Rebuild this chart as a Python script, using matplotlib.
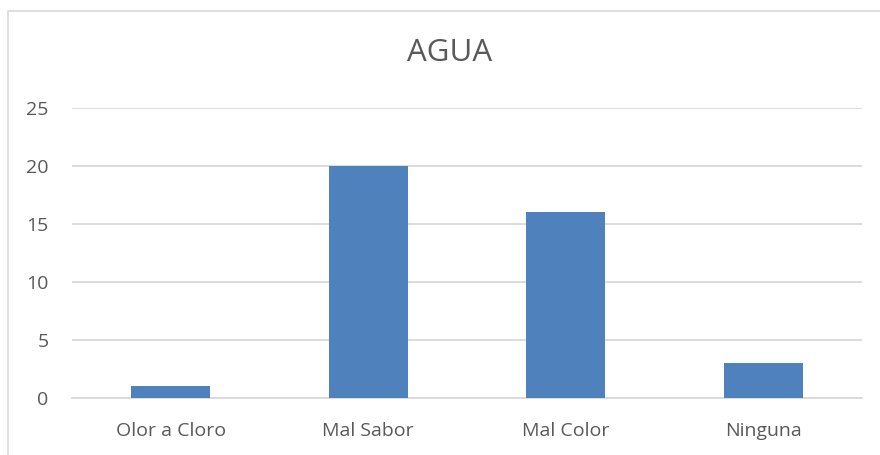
import matplotlib.pyplot as plt
from matplotlib.patches import Rectangle

# Data
categories = ["Olor a Cloro", "Mal Sabor", "Mal Color", "Ninguna"]
values = [1, 20, 16, 3]
yticks = [0, 5, 10, 15, 20, 25]

plt.rcParams['font.family'] = ['Open Sans', 'DejaVu Sans']
text_color = '#595959'
grid_color = '#D9D9D9'

fig = plt.figure(figsize=(8.8, 4.55), dpi=100)
ax = fig.add_axes([72 / 880, 1 - 398 / 455, 790 / 880, 290 / 455])

# chart border (only left and top visible in the reference)
fig.add_artist(Rectangle((7.5 / 880, -0.1), 1.2, 1 - 10.5 / 455 + 0.1,
                         transform=fig.transFigure, fill=False,
                         edgecolor=grid_color, linewidth=1.2))

x = range(len(categories))
ax.bar(x, values, width=0.4, color='#4F81BD', zorder=3)

ax.set_xlim(-0.5, len(categories) - 0.5)
ax.set_ylim(0, 25)
ax.set_yticks(yticks)
ax.set_xticks(list(x))
ax.set_xticklabels(categories)
ax.yaxis.grid(True, color=grid_color, linewidth=1.3, zorder=0)
for s in ['top', 'right', 'left']:
    ax.spines[s].set_visible(False)
ax.spines['bottom'].set_color(grid_color)
ax.spines['bottom'].set_linewidth(1.3)
ax.tick_params(axis='both', length=0, labelsize=14, colors=text_color)
ax.tick_params(axis='y', pad=17)
ax.tick_params(axis='x', pad=17.5)

fig.text(450 / 880, 1 - 53 / 455, "AGUA", ha='center', va='center',
         fontsize=22.5, color=text_color)

fig.savefig('out.png', dpi=100, facecolor='white')
